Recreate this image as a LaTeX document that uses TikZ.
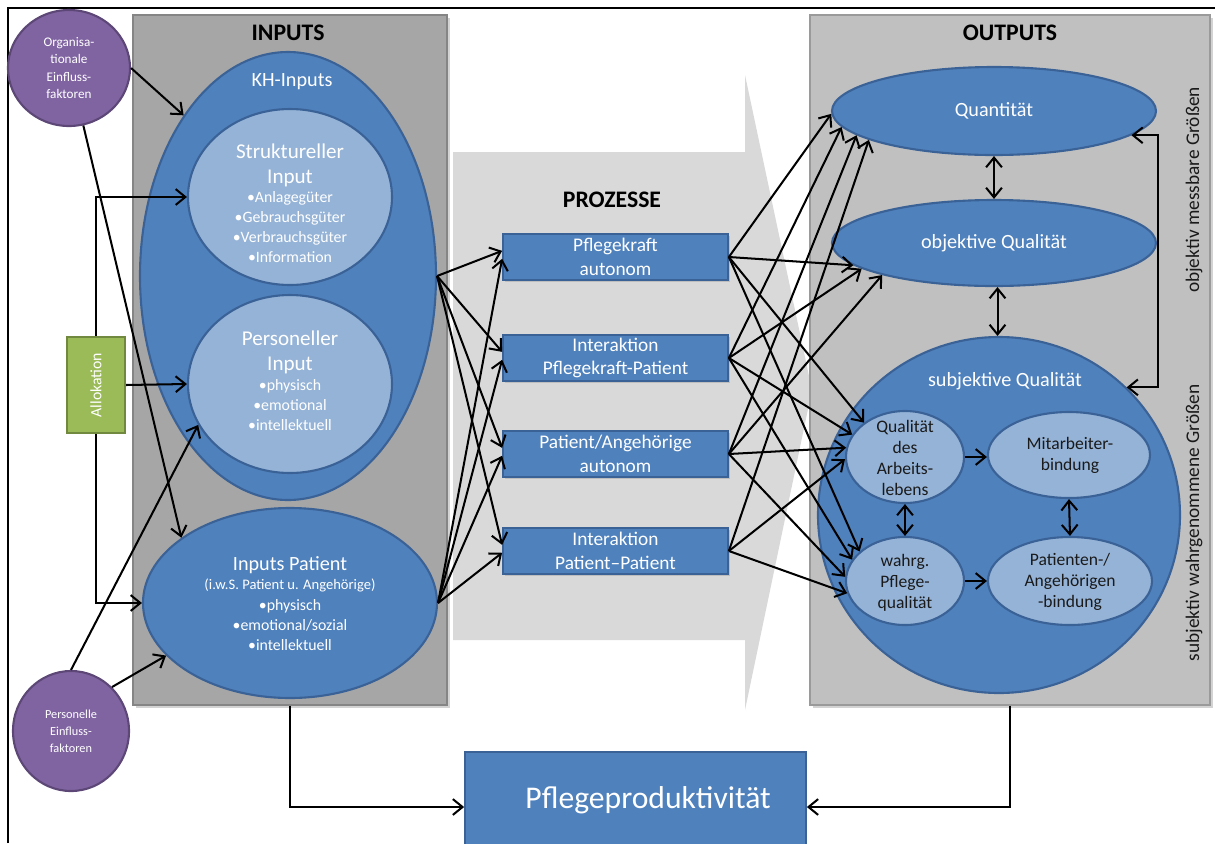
\documentclass[tikz,border=0pt]{standalone}
\usepackage{fontspec}
\setmainfont{Carlito}
\usetikzlibrary{shapes.geometric,arrows.meta,shadows}
\definecolor{bluefill}{HTML}{4F81BD}
\definecolor{blueline}{HTML}{3A6296}
\definecolor{lightblue}{HTML}{95B3D7}
\definecolor{purplefill}{HTML}{8064A2}
\definecolor{purpleline}{HTML}{5C4776}
\definecolor{greenfill}{HTML}{9BBB59}
\definecolor{greenline}{HTML}{71893F}
\definecolor{ingrey}{HTML}{A6A6A6}
\definecolor{outgrey}{HTML}{C0C0C0}
\definecolor{procgrey}{HTML}{D9D9D9}
\definecolor{darktext}{HTML}{1A1A1A}
\newlength\pxu \setlength\pxu{0.02cm}
\newcommand\myfs[2]{\fontsize{#1}{#2}\selectfont}
\begin{document}
\begin{tikzpicture}[x=0.02cm,y=-0.02cm,
  greybox/.style={draw=#1!80!black, fill=#1, line width=0.6pt, inner sep=0pt,
    drop shadow={opacity=0.35, shadow xshift=1.5pt, shadow yshift=-1.5pt}},
  bigell/.style={ellipse, draw=blueline, fill=bluefill, line width=1.2pt, inner sep=0pt},
  smallell/.style={ellipse, draw=blueline, fill=lightblue, line width=1.2pt, inner sep=0pt},
  purp/.style={ellipse, draw=purpleline, fill=purplefill, line width=1.2pt, inner sep=0pt,
    text=white, align=center, font=\myfs{7.5}{10}},
  procbox/.style={rectangle, draw=blueline, fill=bluefill, line width=1pt, inner sep=0pt,
    minimum width=225\pxu, minimum height=46\pxu, text=white, align=center,
    font=\myfs{11}{13.5}, drop shadow={opacity=0.3, shadow xshift=1pt, shadow yshift=-1pt}},
  wtxt/.style={text=white, align=center, inner sep=0pt},
  dtxt/.style={text=darktext, align=center, inner sep=0pt},
  title/.style={text=black, inner sep=0pt, font=\bfseries\myfs{13.5}{15}},
  arr/.style={line width=1.15pt, -{Straight Barb[length=5.5pt,width=9pt]}},
  darr/.style={line width=1.15pt, {Straight Barb[length=5.5pt,width=9pt]}-{Straight Barb[length=5.5pt,width=9pt]}}
]
\useasboundingbox (0,0) rectangle (1215,843);
% frame
\draw[line width=1pt] (8,843) -- (8,8) -- (1215,8);

% process arrow background
\fill[procgrey] (453,152) -- (745,152) -- (745,75) -- (812,390) -- (745,710) -- (745,640) -- (453,640) -- cycle;

% grey panels
\node[greybox=ingrey, minimum width=314\pxu, minimum height=690\pxu] (inbox) at (290,360) {};
\node[greybox=outgrey, minimum width=400\pxu, minimum height=690\pxu] (outbox) at (1010,360) {};

\node[title] (tin) at (288,33) {INPUTS};
\node[title] (tout) at (1010,33) {OUTPUTS};
\node[title] (tproc) at (612,200) {PROZESSE};

% inputs
\node[bigell, minimum width=296\pxu, minimum height=448\pxu] (kh) at (288,276) {};
\node[wtxt, font=\myfs{11.5}{14}] (khtxt) at (292,82) {KH-Inputs};
\node[smallell, minimum width=204\pxu, minimum height=176\pxu] (str) at (290,197) {};
\node[wtxt, font=\myfs{12}{14.2}] (strh) at (290,165) {Struktureller\\Input};
\node[wtxt, font=\myfs{9}{11.3}] (strb) at (290,227) {•Anlagegüter\\•Gebrauchsgüter\\•Verbrauchsgüter\\•Information};
\node[smallell, minimum width=204\pxu, minimum height=178\pxu] (pers) at (290,384) {};
\node[wtxt, font=\myfs{12}{14.2}] (persh) at (290,352) {Personeller\\Input};
\node[wtxt, font=\myfs{9}{11.3}] (persb) at (290,405) {•physisch\\•emotional\\•intellektuell};
\node[bigell, minimum width=294\pxu, minimum height=190\pxu] (ip) at (290,603) {};
\node[wtxt, font=\myfs{11.5}{14}] (iph) at (290,565) {Inputs Patient};
\node[wtxt, font=\myfs{8.3}{10}] (ips) at (290,585) {(i.w.S. Patient u. Angehörige)};
\node[wtxt, font=\myfs{9}{11.3}] (ipb) at (290,625) {•physisch\\•emotional/sozial\\•intellektuell};

% left influence factors
\node[purp, minimum width=122\pxu, minimum height=116\pxu] (org) at (69,68) {Organisa-\\tionale\\Einfluss-\\faktoren};
\node[purp, minimum width=116\pxu, minimum height=120\pxu, font=\myfs{7}{9.6}] (pef) at (71,731) {Personelle\\Einfluss-\\faktoren};
\node[rectangle, draw=greenline, fill=greenfill, line width=1.2pt, minimum width=96\pxu, minimum height=58\pxu,
  inner sep=0pt, text=white, font=\myfs{9}{11}, rotate=90] (alloc) at (96,385) {Allokation};

% processes
\node[procbox] (p1) at (615.5,257) {Pflegekraft\\autonom};
\node[procbox] (p2) at (615.5,358) {Interaktion\\Pflegekraft-Patient};
\node[procbox] (p3) at (615.5,454) {Patient/Angehörige\\autonom};
\node[procbox] (p4) at (615.5,551) {Interaktion\\Patient--Patient};

% outputs
\node[bigell, minimum width=324\pxu, minimum height=88\pxu, text=white, font=\myfs{11.5}{14}] (quant) at (994,111) {Quantität};
\node[bigell, minimum width=324\pxu, minimum height=86\pxu, text=white, font=\myfs{11.5}{14}] (objq) at (994,243) {objektive Qualität};
\node[bigell, minimum width=362\pxu, minimum height=356\pxu] (subj) at (999,515) {};
\node[wtxt, font=\myfs{11.5}{14}] (subjtxt) at (1005,381) {subjektive Qualität};
\node[smallell, minimum width=118\pxu, minimum height=92\pxu] (qda) at (905,457) {};
\node[dtxt, font=\myfs{10}{12}] (qdatxt) at (905,458) {Qualität\\des\\Arbeits-\\lebens};
\node[smallell, minimum width=162\pxu, minimum height=86\pxu] (mit) at (1069,455) {};
\node[dtxt, font=\myfs{10}{12}] (mittxt) at (1070,455) {Mitarbeiter-\\bindung};
\node[smallell, minimum width=118\pxu, minimum height=88\pxu] (wahrg) at (905,581) {};
\node[dtxt, font=\myfs{10}{12}] (wahrgtxt) at (905,583) {wahrg.\\Pflege-\\qualität};
\node[smallell, minimum width=164\pxu, minimum height=88\pxu] (pat) at (1070,581) {};
\node[dtxt, font=\myfs{10}{12}] (pattxt) at (1070,582) {Patienten-/\\Angehörigen\\-bindung};

\node[dtxt, rotate=90, font=\myfs{11}{13}] (vt1) at (1194,190) {objektiv messbare Größen};
\node[dtxt, rotate=90, font=\myfs{11}{13}] (vt2) at (1194,523) {subjektiv wahrgenommene Größen};

% productivity
\node[rectangle, fill=bluefill, draw=blueline, line width=1pt, minimum width=341\pxu, minimum height=110\pxu] (pp) at (635.5,807) {};
\node[wtxt, font=\myfs{18}{22}] (pptxt) at (648,800) {Pflegeproduktivität};

% connectors: influence factors
\draw[arr] (org.east) -- (kh.123);
\draw[arr] (org.284) -- (ip.149);
\draw[arr] (alloc.east) |- (str.west);
\draw[arr] (alloc.south) -- (pers.west);
\draw[arr] (alloc.west) |- (ip.west);
\draw[arr] (pef.north) -- (pers.204);
\draw[arr] (pef.47) -- (ip.203);

% inputs to processes
\foreach \p in {p1,p2,p3,p4}{
  \draw[arr] (kh.east) -- ([yshift=3.5pt]\p.west);
  \draw[arr] (ip.east) -- ([yshift=-1pt]\p.west);
}

% processes to outputs
\draw[arr] (p1.east) -- (quant.181);
\draw[arr] (p1.east) -- (objq.189);
\draw[arr] (p1.east) -- (qda.140);
\draw[arr] (p1.east) -- (wahrg.147);
\draw[arr] (p2.east) -- (quant.186);
\draw[arr] (p2.east) -- (objq.191);
\draw[arr] (p2.east) -- (qda.157);
\draw[arr] (p2.east) -- (wahrg.158);
\draw[arr] (p3.east) -- (quant.190);
\draw[arr] (p3.east) -- (objq.196);
\draw[arr] (p3.east) -- (qda.171);
\draw[arr] (p3.east) -- (wahrg.176);
\draw[arr] (p4.east) -- (quant.193);
\draw[arr] (p4.east) -- (qda.182);
\draw[arr] (p4.east) -- (wahrg.192);

% outputs internal
\draw[darr] (quant.south) -- (objq.north);
\draw[darr] ([xshift=2pt]objq.south) -- ([xshift=2pt]objq.south |- subj.north);
\draw[darr] (qda.south) -- (wahrg.north);
\draw[darr] (mit.south) -- (pat.north);
\draw[arr] (qda.east) -- (qda.east -| mit.west);
\draw[arr] (wahrg.east) -- (wahrg.east -| pat.west);
\coordinate (brx) at (1158,0);
\draw[darr] (quant.350) -- (quant.350 -| brx) |- (subj.45);

% to productivity
\draw[arr] (inbox.south) |- (pp.west);
\draw[arr] (outbox.south) |- (pp.east);
\end{tikzpicture}
\end{document}
